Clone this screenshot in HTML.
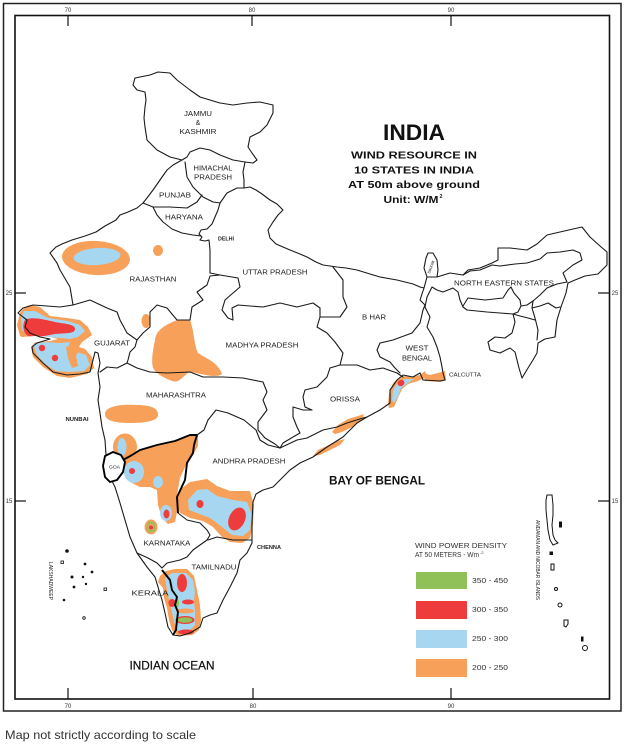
<!DOCTYPE html>
<html><head><meta charset="utf-8"><style>
html,body{margin:0;padding:0;background:#fff;}
svg{display:block;}
text{font-family:"Liberation Sans",sans-serif;}
.s{font-size:7px;fill:#222;}
.t{font-size:6px;fill:#333;}
</style></head><body>
<svg width="625" height="747" viewBox="0 0 625 747" xmlns="http://www.w3.org/2000/svg">
<rect width="625" height="747" fill="#fff"/>
<!-- frames -->
<rect x="3.5" y="3.5" width="617.5" height="707.5" fill="none" stroke="#222" stroke-width="1.5"/>
<rect x="15" y="15.5" width="594.5" height="683.5" fill="none" stroke="#111" stroke-width="1.6"/>
<g stroke="#111" stroke-width="1.2">
<line x1="68" y1="15" x2="68" y2="26"/><line x1="252" y1="15" x2="252" y2="26"/><line x1="451" y1="15" x2="451" y2="26"/>
<line x1="68" y1="688" x2="68" y2="699"/><line x1="253" y1="688" x2="253" y2="699"/><line x1="451" y1="688" x2="451" y2="699"/>
<line x1="15" y1="293" x2="26" y2="293"/><line x1="15" y1="501" x2="26" y2="501"/>
<line x1="598" y1="293" x2="610" y2="293"/><line x1="598" y1="501" x2="610" y2="501"/>
</g>
<g class="t" text-anchor="middle">
<text x="68" y="12">70</text><text x="252" y="12">80</text><text x="451" y="12">90</text>
<text x="68" y="708">70</text><text x="253" y="708">80</text><text x="451" y="708">90</text>
<text x="9" y="295">25</text><text x="9" y="503">15</text>
<text x="615" y="295">25</text><text x="615" y="503">15</text>
</g>

<!-- colour blobs -->
<g>
<!-- Rajasthan -->
<ellipse cx="96" cy="258" rx="34" ry="17" fill="#f6a05a" transform="rotate(3 96 258)"/>
<ellipse cx="97" cy="256.5" rx="23.5" ry="8.5" fill="#a7d7f0" transform="rotate(-4 97 256)"/>
<ellipse cx="158" cy="250.5" rx="5" ry="5.5" fill="#f6a05a"/>
<ellipse cx="146" cy="321" rx="4.5" ry="7" fill="#f6a05a"/>
<!-- Gujarat -->
<polygon fill="#f6a05a" points="30,305 40,307 50,316 67,318 80,320 88,327 92,335 82,342 79,347 85,349 92,357 94,368 87,374 70,378 57,376 43,367 33,357 31,347 35,342 28,340 20,336 17,325 20,313 25,307"/>
<polygon fill="#a7d7f0" points="24,311 35,311 48,318 68,321 80,325 85,331 78,337 70,339 60,338 45,337 30,337 22,330 21,318"/>
<polygon fill="#a7d7f0" points="33,344 45,342 60,343 70,342 68,348 74,351 86,355 90,365 84,371 70,372 56,371 45,364 37,355"/>
<polygon fill="#f6a05a" points="66,347 73,345 79,350 76,356 78,366 72,368 68,358"/>
<path fill="#ee3b3b" d="M25,320 C32,316 45,320 55,322 C65,324 75,324 75,329 C75,334 65,333 55,334 C45,336 35,338 28,336 C23,333 22,325 25,320 Z"/>
<polygon fill="#fff" points="22,337 35,336 50,337 58,339 50,341 38,342 30,343 22,341"/>
<circle cx="42" cy="348" r="3.2" fill="#ee3b3b"/>
<circle cx="55" cy="358" r="3.2" fill="#ee3b3b"/>
<!-- MP -->
<path fill="#f6a05a" d="M155,340 C156,330 165,325 177,320 L190,320 C194,330 194,345 198,353 C205,358 218,362 222,374 C215,379 200,373 190,372 C184,374 180,384 172,381 C165,378 157,375 153,368 C151,360 153,350 155,340 Z"/>
<!-- Maharashtra -->
<path fill="#f6a05a" d="M105,414 C105,405 125,404 140,405 C155,406 158,410 158,415 C158,421 145,423 130,423 C113,423 105,420 105,414 Z"/>
<!-- Karnataka -->
<ellipse cx="125" cy="447" rx="12" ry="13.5" fill="#f6a05a"/>
<ellipse cx="122" cy="447" rx="4.5" ry="9" fill="#a7d7f0"/>
<polygon fill="#f6a05a" points="123,462 132,455 140,450 157,446 173,442 190,436 198,434 198,446 193,455 186,465 180,478 177,495 177,512 175,522 168,524 162,518 158,505 157,490 150,487 140,487 130,482 123,472"/>
<ellipse cx="134" cy="472" rx="10" ry="11" fill="#a7d7f0"/>
<circle cx="132" cy="471" r="3" fill="#ee3b3b"/>
<ellipse cx="158" cy="482" rx="5" ry="6" fill="#a7d7f0"/>
<ellipse cx="166" cy="513" rx="6" ry="8" fill="#a7d7f0"/>
<ellipse cx="166.5" cy="514" rx="3" ry="4.5" fill="#ee3b3b"/>
<ellipse cx="151" cy="527" rx="6.5" ry="7.5" fill="#f6a05a"/>
<ellipse cx="151" cy="527" rx="4.5" ry="5.5" fill="#8fc158"/>
<ellipse cx="151" cy="527" rx="2.8" ry="3.4" fill="#f6a05a"/>
<circle cx="151" cy="527.5" r="2" fill="#ee3b3b"/>
<!-- Andhra -->
<polygon fill="#f6a05a" points="177,497 182,488 190,482 207,479 217,486 230,491 250,491 254,505 253,525 250,538 242,543 230,542 222,537 213,527 203,521 190,518 180,513 177,505"/>
<polygon fill="#a7d7f0" points="188,500 197,490 207,489 217,496 233,500 247,502 252,515 250,530 243,536 232,535 222,527 210,518 197,513 189,510"/>
<ellipse cx="200" cy="504" rx="3.5" ry="4" fill="#ee3b3b"/>
<ellipse cx="237" cy="519" rx="8" ry="12" fill="#ee3b3b" transform="rotate(25 237 519)"/>
<!-- TN / Kerala -->
<polygon fill="#f6a05a" points="160,576 166,571 175,569 187,569 194,576 197,590 200,605 201,620 199,630 192,635 178,636 172,630 169,620 167,608 164,598 163,588 158,582"/>
<polygon fill="#a7d7f0" points="165,578 172,573 186,573 193,580 195,592 194,600 195,612 195,625 190,630 178,631 174,622 172,612 169,600 167,590"/>
<ellipse cx="182" cy="583" rx="5" ry="9" fill="#ee3b3b"/>
<ellipse cx="172" cy="603" rx="3.5" ry="4" fill="#ee3b3b"/>
<ellipse cx="188" cy="602" rx="6" ry="2.5" fill="#ee3b3b"/>
<ellipse cx="177" cy="603" rx="2" ry="4.5" fill="#8fc158"/>
<ellipse cx="185" cy="611" rx="9" ry="2.5" fill="#f6a05a"/>
<ellipse cx="185" cy="620" rx="9.5" ry="4" fill="#ee3b3b"/>
<ellipse cx="185" cy="620" rx="7.5" ry="2.8" fill="#8fc158"/>
<ellipse cx="186" cy="632" rx="8" ry="2.5" fill="#ee3b3b"/>
<!-- east coast -->
<polygon fill="#f6a05a" points="332,432 338,425 348,419 358,416 364,414 362,420 352,427 342,432 335,434"/>
<polygon fill="#f6a05a" points="313,456 318,450 327,446 337,441 345,439 340,445 330,450 320,455"/>
<polygon fill="#f6a05a" points="388,404 389,394 393,383 399,378 405,376 412,377 420,375 425,371 427,377 418,381 408,384 402,389 398,398 394,407 389,408"/>
<polygon fill="#a7d7f0" points="392,400 393,390 398,382 405,379 414,379 408,383 401,388 398,397 394,403"/>
<ellipse cx="401" cy="383" rx="3.5" ry="3" fill="#ee3b3b" transform="rotate(-30 401 383)"/>
<polygon fill="#f6a05a" points="423,373 430,375 438,373 445,371 446,380 440,382 425,381"/>
</g>

<!-- outline -->
<g fill="none" stroke="#1a1a1a" stroke-width="1.1" stroke-linejoin="round" stroke-linecap="round">
<path d="M133,85 L135,78 150,75 158,72 170,73 177,80 190,90 200,97 220,103 233,105 247,103 260,102 273,105 273,113 267,125 260,132 250,137 248,147 252,153 257,160 253,163 245,162 243,172 244,180 244,188 250,187 256,190 262,194 270,200 277,204 283,210 278,215 273,222 268,230 270,238 276,244 290,250 300,254 307,257 316,262 323,265 337,267 346,268 357,270 370,274 380,277 397,280 405,282 413,284 420,287 424,288 427,277 424,268 426,258 428,253 433,253 437,260 438,270 437,277 450,273 463,275 468,270 480,268 492,263 498,260 498,248 510,248 527,250 537,244 547,235 560,232 573,229 582,227 590,237 600,246 607,252 607,265 598,274 585,276 575,280 568,283 566,293 561,307 557,320 555,337 545,339 538,343 537,353 533,360 528,368 522,378 519,368 515,352 510,348 500,353 490,350 488,342 495,337 505,338 512,333 515,322 513,314 500,313 487,312 467,310 463,307 460,300 458,292 453,288 443,292 437,290 432,287 427,297 425,307 430,317 427,327 433,337 437,347 440,357 442,367 443,373 445,380 440,381 423,380 420,373 413,377 403,375 397,380 390,390 390,403 380,410 367,417 357,423 343,437 327,447 313,457 300,463 290,470 280,480 273,487 263,490 256,494 253,502 252,523 252,543 247,553 240,560 237,573 230,587 223,600 217,613 210,615 203,618 200,627 190,633 180,636 173,635 168,627 165,613 162,600 158,587 155,577 147,567 137,553 130,537 125,520 120,503 115,487 110,477 107,465 106,455 105,440 102,427 100,413 98,400 100,387 98,373 100,363 98,353 95,352 93,360 90,372 80,374 67,375 53,372 43,363 33,353 32,347 37,343 50,339 40,337 30,333 25,327 27,320 23,317 18,313 23,308 33,305 47,306 60,307 73,305 70,287 60,270 57,263 50,253 56,247 62,244 72,240 85,236 96,232 105,226 116,220 120,215 128,212 137,208 143,203 147,198 153,190 160,180 167,170 173,165 182,160 170,157 157,150 147,140 145,127 144,118 145,107 146,100 145,92 137,90 Z"/>
<!-- Sikkim bottom -->
<polyline points="427,277 437,277"/>
<!-- J&K / HP -->
<polyline points="182,160 187,157 190,152 200,148 210,150 220,155 233,160 245,162"/>
<!-- HP-Punjab -->
<polyline points="185,162 187,177 193,187 203,197 213,202 220,203"/>
<!-- HP-UP -->
<polyline points="220,203 227,193 237,188 244,188"/>
<!-- Punjab-Haryana -->
<polyline points="143,203 153,207 170,207 187,208 197,202 202,195"/>
<!-- Haryana-UP & Delhi -->
<polyline points="220,203 218,210 215,217 212,224 207,229 201,230 199,234 202,237 200,240 205,241 209,240 210,250 210,262 210,273"/>
<!-- Haryana-Rajasthan -->
<polyline points="153,207 157,215 163,222 172,229 182,233 193,235 201,236"/>
<!-- Raj-UP, UP-MP -->
<polyline points="210,273 220,275 238,278 240,287 233,293 225,300 222,310 228,318 233,320 232,308 238,305 250,306 263,307 280,303 297,307 313,303 320,308 320,317"/>
<!-- Raj-MP -->
<polyline points="220,275 210,276 207,285 197,292 203,300 192,307 190,320 177,320 167,308 157,305 150,312 150,327 143,333 137,340"/>
<!-- Raj-Gujarat -->
<polyline points="73,305 90,300 107,308 117,312 120,320 127,333 137,340"/>
<!-- Gujarat-MP-Maha -->
<polyline points="137,340 135,347 130,352 128,360 127,363 117,368 107,367 100,372"/>
<!-- MP-Maharashtra -->
<polyline points="127,363 137,368 150,372 167,373 190,372 203,377 223,377 243,378 263,382 267,392 263,400 267,410 258,422 258,430 265,438 275,444 280,448"/>
<!-- Maharashtra-AP -->
<polyline points="197,435 204,430 208,420 216,410 228,413 244,420 256,430 260,440 268,445 280,448"/>
<!-- Karnataka-AP-TN thin -->
<polyline points="178,513 187,520 200,523 207,530 210,535 207,540 193,550 187,557 180,560 167,563 162,568"/>
<polyline points="208,540 217,537 233,540 247,540 252,540"/>
<polyline points="137,553 148,558 157,563 162,568"/>
<!-- Orissa -->
<polyline points="340,365 330,368 327,377 317,387 305,390 303,397 305,407 312,410 303,410 293,407 293,417 297,427 300,433 293,437 283,443 280,448"/>
<polyline points="280,448 297,440 307,438 323,430 337,427 347,423 363,418 367,417"/>
<polyline points="340,365 357,365 370,370 383,368 397,373 403,377"/>
<!-- Bihar -->
<polyline points="333,267 343,280 343,297 347,307 340,317 320,317 317,327 327,333 335,342 343,353 340,365"/>
<polyline points="424,288 420,300 425,305 423,310 420,323 412,333 393,340 380,343 377,350 380,357 390,362 395,368 400,373"/>
<!-- NE interior -->
<polyline points="463,275 470,271 480,270 492,265 500,266 515,264 527,263 540,259 547,253 560,252 573,250 580,253 582,260 573,265 563,273 567,282"/>
<polyline points="567,282 557,284 547,288 540,295 533,301 532,308 535,318 538,330 537,340"/>
<polyline points="532,308 540,306 548,303 556,308 560,307"/>
<polyline points="463,306 468,298 485,300 503,298 508,290 511,287 514,293 520,300 521,306 518,312 513,314"/>
<polyline points="513,314 520,316 528,318 535,320"/>
<polyline points="521,306 527,305 533,301"/>
</g>
<!-- thick borders -->
<g fill="none" stroke="#000" stroke-width="1.9" stroke-linejoin="round">
<polyline points="123,460 132,455 140,450 157,445 175,441 190,435 197,435"/>
<polyline points="197,435 194,445 193,453 187,463 185,480 177,497 178,513"/>
<polyline points="162,570 170,580 172,590 177,597 175,605 178,612 177,620 176,630 173,635"/>
<polygon fill="#fff" points="105,456 113,452 121,455 125,462 123,472 117,480 110,482 105,477 103,466"/>
</g>

<!-- Lakshadweep -->
<g fill="#111" stroke="#111" stroke-width="0.8">
<circle cx="67" cy="551" r="1.4"/>
<rect x="61" y="561" width="2.5" height="2.5" fill="none"/>
<circle cx="85" cy="564" r="1"/>
<circle cx="92" cy="572" r="1"/>
<circle cx="72" cy="577" r="1.1"/>
<circle cx="83" cy="577" r="0.8"/>
<circle cx="74" cy="587" r="1"/>
<circle cx="86" cy="584" r="0.8"/>
<rect x="104" y="588" width="2.5" height="2.5" fill="none"/>
<circle cx="64" cy="600" r="0.9"/>
<circle cx="84" cy="618" r="1.3" fill="none"/>
</g>
<!-- Andaman -->
<g fill="none" stroke="#111" stroke-width="1">
<path d="M547,495 L552,495 553,505 553,515 552,525 553,535 555,540 558,543 553,545 550,540 548,530 547,520 546,510 546,500 Z"/>
<rect x="559.5" y="522" width="2" height="5" fill="#111"/>
<rect x="550" y="552" width="2.5" height="2.5" fill="#111"/>
<rect x="551" y="564" width="3" height="6"/>
<circle cx="556" cy="589" r="1.5"/>
<circle cx="560" cy="605" r="2"/>
<path d="M564,620 L568,620 568,624 566,627 564,626 Z"/>
<rect x="581.5" y="637" width="1.5" height="4" fill="#111"/>
<circle cx="585" cy="648" r="2.5"/>
</g>
<text x="0" y="0" font-size="5px" fill="#222" transform="translate(536,520) rotate(90)" textLength="80" lengthAdjust="spacingAndGlyphs">ANDAMAN AND NICOBAR ISLANDS</text>
<text x="0" y="0" font-size="5px" fill="#222" transform="translate(49,562) rotate(90)" textLength="38" lengthAdjust="spacingAndGlyphs">LAKSHADWEEP</text>
<text x="0" y="0" font-size="4px" fill="#222" transform="translate(430,274) rotate(-70)">SIKKIM</text>

<!-- Title -->
<g text-anchor="middle" font-weight="bold" fill="#111">
<text x="414" y="140" font-size="22px" textLength="62" lengthAdjust="spacingAndGlyphs">INDIA</text>
<text x="414" y="158.3" font-size="10.5px" textLength="126" lengthAdjust="spacingAndGlyphs">WIND RESOURCE IN</text>
<text x="414" y="173.3" font-size="10.5px" textLength="120" lengthAdjust="spacingAndGlyphs">10 STATES IN INDIA</text>
<text x="414" y="188" font-size="10.5px" textLength="132" lengthAdjust="spacingAndGlyphs">AT 50m above ground</text>
<text x="411" y="203" font-size="10.5px" textLength="55" lengthAdjust="spacingAndGlyphs">Unit: W/M</text>
<text x="441" y="198" font-size="5px">2</text>
</g>

<!-- state labels -->
<g class="s" text-anchor="middle">
<text x="198" y="116" textLength="28" lengthAdjust="spacingAndGlyphs">JAMMU</text>
<text x="198" y="125">&amp;</text>
<text x="198" y="134" textLength="37" lengthAdjust="spacingAndGlyphs">KASHMIR</text>
<text x="213" y="170.5" textLength="39" lengthAdjust="spacingAndGlyphs">HIMACHAL</text>
<text x="213" y="179.5" textLength="38" lengthAdjust="spacingAndGlyphs">PRADESH</text>
<text x="175" y="197.5" textLength="32" lengthAdjust="spacingAndGlyphs">PUNJAB</text>
<text x="184" y="219.5" textLength="38" lengthAdjust="spacingAndGlyphs">HARYANA</text>
<text x="226" y="240.5" font-size="5.5px" font-weight="bold" textLength="16" lengthAdjust="spacingAndGlyphs">DELHI</text>
<text x="153" y="281.5" textLength="47" lengthAdjust="spacingAndGlyphs">RAJASTHAN</text>
<text x="275" y="274.5" textLength="65" lengthAdjust="spacingAndGlyphs">UTTAR PRADESH</text>
<text x="504" y="285.5" textLength="100" lengthAdjust="spacingAndGlyphs">NORTH EASTERN STATES</text>
<text x="374" y="319.5" textLength="24" lengthAdjust="spacingAndGlyphs">B HAR</text>
<text x="112" y="345.5" textLength="36" lengthAdjust="spacingAndGlyphs">GUJARAT</text>
<text x="262" y="347.5" textLength="73" lengthAdjust="spacingAndGlyphs">MADHYA PRADESH</text>
<text x="417" y="350.5" textLength="23" lengthAdjust="spacingAndGlyphs">WEST</text>
<text x="417" y="360.5" textLength="30" lengthAdjust="spacingAndGlyphs">BENGAL</text>
<text x="465" y="376.5" font-size="5.5px" textLength="32" lengthAdjust="spacingAndGlyphs">CALCUTTA</text>
<text x="176" y="397.5" textLength="60" lengthAdjust="spacingAndGlyphs">MAHARASHTRA</text>
<text x="345" y="401.5" textLength="30" lengthAdjust="spacingAndGlyphs">ORISSA</text>
<text x="77" y="421" font-size="5.5px" font-weight="bold" textLength="23" lengthAdjust="spacingAndGlyphs">NUNBAI</text>
<text x="249" y="463.5" textLength="73" lengthAdjust="spacingAndGlyphs">ANDHRA PRADESH</text>
<text x="114.5" y="468.5" font-size="4.5px" textLength="11" lengthAdjust="spacingAndGlyphs">GOA</text>
<text x="167" y="545.5" textLength="47" lengthAdjust="spacingAndGlyphs">KARNATAKA</text>
<text x="269" y="549" font-size="5.5px" font-weight="bold" textLength="24" lengthAdjust="spacingAndGlyphs">CHENNA</text>
<text x="214" y="569.5" textLength="45" lengthAdjust="spacingAndGlyphs">TAMILNADU</text>
<text x="150" y="595.5" textLength="37" lengthAdjust="spacingAndGlyphs">KERALA</text>
</g>
<text x="377" y="484.5" text-anchor="middle" font-size="12px" font-weight="bold" fill="#111" textLength="96" lengthAdjust="spacingAndGlyphs">BAY OF BENGAL</text>
<text x="172" y="669.5" text-anchor="middle" font-size="11.5px" fill="#111" stroke="#111" stroke-width="0.25" textLength="85" lengthAdjust="spacingAndGlyphs">INDIAN OCEAN</text>

<!-- legend -->
<g font-size="7px" fill="#333">
<text x="415" y="548" textLength="92" lengthAdjust="spacingAndGlyphs">WIND POWER DENSITY</text>
<text x="415" y="557" textLength="64" lengthAdjust="spacingAndGlyphs">AT 50 METERS - Wm</text>
<text x="480" y="554" font-size="4px">-2</text>
</g>
<rect x="416" y="572" width="51" height="17" fill="#8fc158"/>
<rect x="416" y="601" width="51" height="18" fill="#ee3b3b"/>
<rect x="416" y="630" width="51" height="18" fill="#a7d7f0"/>
<rect x="416" y="659" width="51" height="18" fill="#f6a05a"/>
<g font-size="7px" fill="#333">
<text x="472" y="583" textLength="36" lengthAdjust="spacingAndGlyphs">350 - 450</text>
<text x="472" y="612" textLength="36" lengthAdjust="spacingAndGlyphs">300 - 350</text>
<text x="472" y="641" textLength="36" lengthAdjust="spacingAndGlyphs">250 - 300</text>
<text x="472" y="670" textLength="36" lengthAdjust="spacingAndGlyphs">200 - 250</text>
</g>

<text x="5" y="739" font-size="12px" fill="#333" textLength="191" lengthAdjust="spacingAndGlyphs">Map not strictly according to scale</text>
</svg>
</body></html>
